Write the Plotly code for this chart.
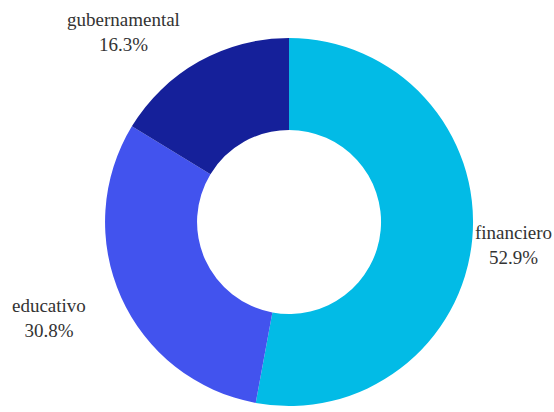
import plotly.graph_objects as go

labels = ["financiero", "educativo", "gubernamental"]
values = [52.9, 30.8, 16.3]
colors = ["#02BBE6", "#4253EE", "#15209A"]

# label anchor positions (paper coords)
label_x = [513 / 554, 49 / 554, 123 / 554]
label_y = [1 - 245 / 412, 1 - 318 / 412, 1 - 32 / 412]

fig = go.Figure(go.Pie(
    labels=labels,
    values=values,
    hole=0.5,
    sort=False,
    direction="clockwise",
    rotation=0,
    marker=dict(colors=colors, line=dict(width=0)),
    textinfo="none",
    hoverinfo="label+percent",
    showlegend=False,
    domain=dict(x=[0.1896, 0.8539], y=[0.0146, 0.9078]),
))

total = sum(values)
for lab, v, x, y in zip(labels, values, label_x, label_y):
    fig.add_annotation(
        x=x, y=y, xref="paper", yref="paper",
        xanchor="center", yanchor="middle",
        text=f"{lab}<br>{v / total * 100:.1f}%",
        showarrow=False, align="center",
        font=dict(family="Liberation Serif, Times New Roman, serif", size=19, color="#333333"),
    )

fig.update_layout(
    width=554, height=412,
    margin=dict(l=0, r=0, t=0, b=0),
    paper_bgcolor="white",
    plot_bgcolor="white",
)

fig.write_html(
    "out.html",
    config={"displayModeBar": False},
    post_script="document.body.style.margin='0';",
)
